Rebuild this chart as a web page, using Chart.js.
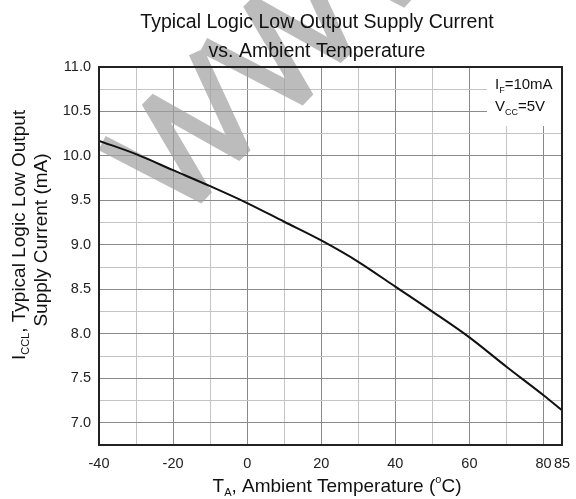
<!DOCTYPE html>
<html>
<head>
<meta charset="utf-8">
<script src="https://cdn.jsdelivr.net/npm/chart.js@4"></script>
<style>
  body { margin: 0; background: #fff; }
  #wrap { width: 576px; height: 499px; }
</style>
</head>
<body>
<div id="wrap"><canvas id="chart" width="576" height="499"></canvas></div>
<script>
// values
const temps = [-40, -30, -20, -10, 0, 10, 20, 30, 40, 50, 60, 70, 80, 85];
const iccl = [10.17, 10.02, 9.84, 9.66, 9.47, 9.26, 9.05, 8.81, 8.53, 8.25, 7.96, 7.63, 7.31, 7.14];
const xGrid = [-40, -30, -20, -10, 0, 10, 20, 30, 40, 50, 60, 70, 80, 85];
const xTickLabels = [-40, -20, 0, 20, 40, 60, 80, 85];
const yMin = 6.75, yMax = 11.0, yStep = 0.25;
const conditions = [['I', 'F', '=10mA'], ['V', 'CC', '=5V']];

const FONT = '"Liberation Sans", Arial, sans-serif';
Chart.defaults.font.family = FONT;

// draw a row of text pieces with sub/superscripts, centred on (cx, cy)
function richText(ctx, parts, cx, cy) {
  let w = 0;
  parts.forEach(p => {
    ctx.font = p.size + 'px ' + FONT;
    p.w = ctx.measureText(p.t).width;
    w += p.w;
  });
  let x = cx - w / 2;
  ctx.textAlign = 'left';
  ctx.textBaseline = 'middle';
  parts.forEach(p => {
    ctx.font = p.size + 'px ' + FONT;
    ctx.fillText(p.t, x, cy + (p.dy || 0));
    x += p.w;
  });
}

// the grey "WWW" watermark of the scanned sheet, as thick strokes
function watermark(ctx) {
  ctx.save();
  ctx.translate(102, 143);
  ctx.rotate(-44 * Math.PI / 180);
  ctx.strokeStyle = 'rgba(160,160,160,0.7)';
  ctx.lineWidth = 16;
  ctx.lineJoin = 'bevel';
  ctx.lineCap = 'butt';
  ctx.beginPath();
  for (let k = 0; k < 3; k++) {
    const o = k * 141;
    ctx.moveTo(o, 0);
    ctx.lineTo(o + 37, 110);
    ctx.lineTo(o + 63, 2);
    ctx.lineTo(o + 94, 106);
    ctx.lineTo(o + 131, 0);
  }
  ctx.stroke();
  ctx.restore();
}

const extras = {
  id: 'extras',
  beforeDatasetsDraw(chart) {
    const { ctx, chartArea: a } = chart;
    ctx.save();
    // white box behind the test conditions
    ctx.fillStyle = '#fff';
    ctx.fillRect(487, a.top + 1, a.right - 488, 58);
    ctx.restore();
    watermark(ctx);
  },
  afterDraw(chart) {
    const { ctx, chartArea: a } = chart;
    ctx.save();
    ctx.strokeStyle = '#222';
    ctx.lineWidth = 2;
    ctx.strokeRect(a.left, a.top, a.right - a.left, a.bottom - a.top);
    ctx.fillStyle = '#111';
    ctx.font = '19.5px ' + FONT;
    ctx.textAlign = 'center';
    ctx.textBaseline = 'middle';
    ctx.fillText('Typical Logic Low Output Supply Current', 317, 23);
    ctx.fillText('vs. Ambient Temperature', 317, 52);

    richText(ctx, [
      { t: 'T', size: 19 }, { t: 'A', size: 11, dy: 6 },
      { t: ', Ambient Temperature (', size: 19 }, { t: 'o', size: 11, dy: -7 },
      { t: 'C)', size: 19 }
    ], 337, 487);

    ctx.save();
    ctx.translate(20, 235);
    ctx.rotate(-Math.PI / 2);
    richText(ctx, [
      { t: 'I', size: 19 }, { t: 'CCL', size: 11, dy: 6 },
      { t: ', Typical Logic Low Output', size: 19 }
    ], 0, 0);
    ctx.restore();
    ctx.save();
    ctx.translate(42, 240);
    ctx.rotate(-Math.PI / 2);
    richText(ctx, [{ t: 'Supply Current (mA)', size: 19 }], 0, 0);
    ctx.restore();

    conditions.forEach((c, i) => {
      const y = 85 + i * 22;
      ctx.textAlign = 'left';
      ctx.font = '15px ' + FONT;
      let x = 495;
      ctx.fillText(c[0], x, y);
      x += ctx.measureText(c[0]).width;
      ctx.font = '9px ' + FONT;
      ctx.fillText(c[1], x, y + 6);
      x += ctx.measureText(c[1]).width;
      ctx.font = '15px ' + FONT;
      ctx.fillText(c[2], x, y);
    });
    ctx.restore();
  }
};

new Chart(document.getElementById('chart'), {
  type: 'line',
  data: {
    datasets: [{
      data: temps.map((t, i) => ({ x: t, y: iccl[i] })),
      borderColor: '#111',
      borderWidth: 2,
      pointRadius: 0,
      cubicInterpolationMode: 'monotone',
      fill: false
    }]
  },
  options: {
    responsive: false,
    animation: false,
    layout: { padding: { top: 67, right: 14, left: 0, bottom: 0 } },
    plugins: { legend: { display: false }, tooltip: { enabled: false } },
    scales: {
      x: {
        type: 'linear',
        min: -40,
        max: 85,
        afterBuildTicks: s => { s.ticks = xGrid.map(v => ({ value: v })); },
        afterFit: s => { s.height = 54; s.paddingLeft = 0; s.paddingRight = 0; },
        grid: {
          drawTicks: false,
          color: c => (c.tick && c.tick.value % 20 === 0) ? '#8a8a8a' : '#c4c4c4',
          lineWidth: 1
        },
        border: { color: '#222', width: 2 },
        ticks: {
          padding: 10,
          color: '#222',
          font: { size: 14.5 },
          maxRotation: 0,
          autoSkip: false,
          callback: v => xTickLabels.includes(v) ? String(v) : ''
        }
      },
      y: {
        min: yMin,
        max: yMax,
        afterFit: s => { s.width = 99; s.paddingTop = 0; s.paddingBottom = 0; },
        grid: {
          drawTicks: false,
          color: c => (c.tick && Math.abs(c.tick.value * 2 - Math.round(c.tick.value * 2)) < 1e-6) ? '#8a8a8a' : '#c4c4c4',
          lineWidth: 1
        },
        border: { color: '#222', width: 2 },
        ticks: {
          stepSize: yStep,
          padding: 8,
          color: '#222',
          font: { size: 14.5 },
          autoSkip: false,
          callback: v => Math.abs(v * 2 - Math.round(v * 2)) < 1e-6 ? v.toFixed(1) : ''
        }
      }
    }
  },
  plugins: [extras]
});
</script>
</body>
</html>
